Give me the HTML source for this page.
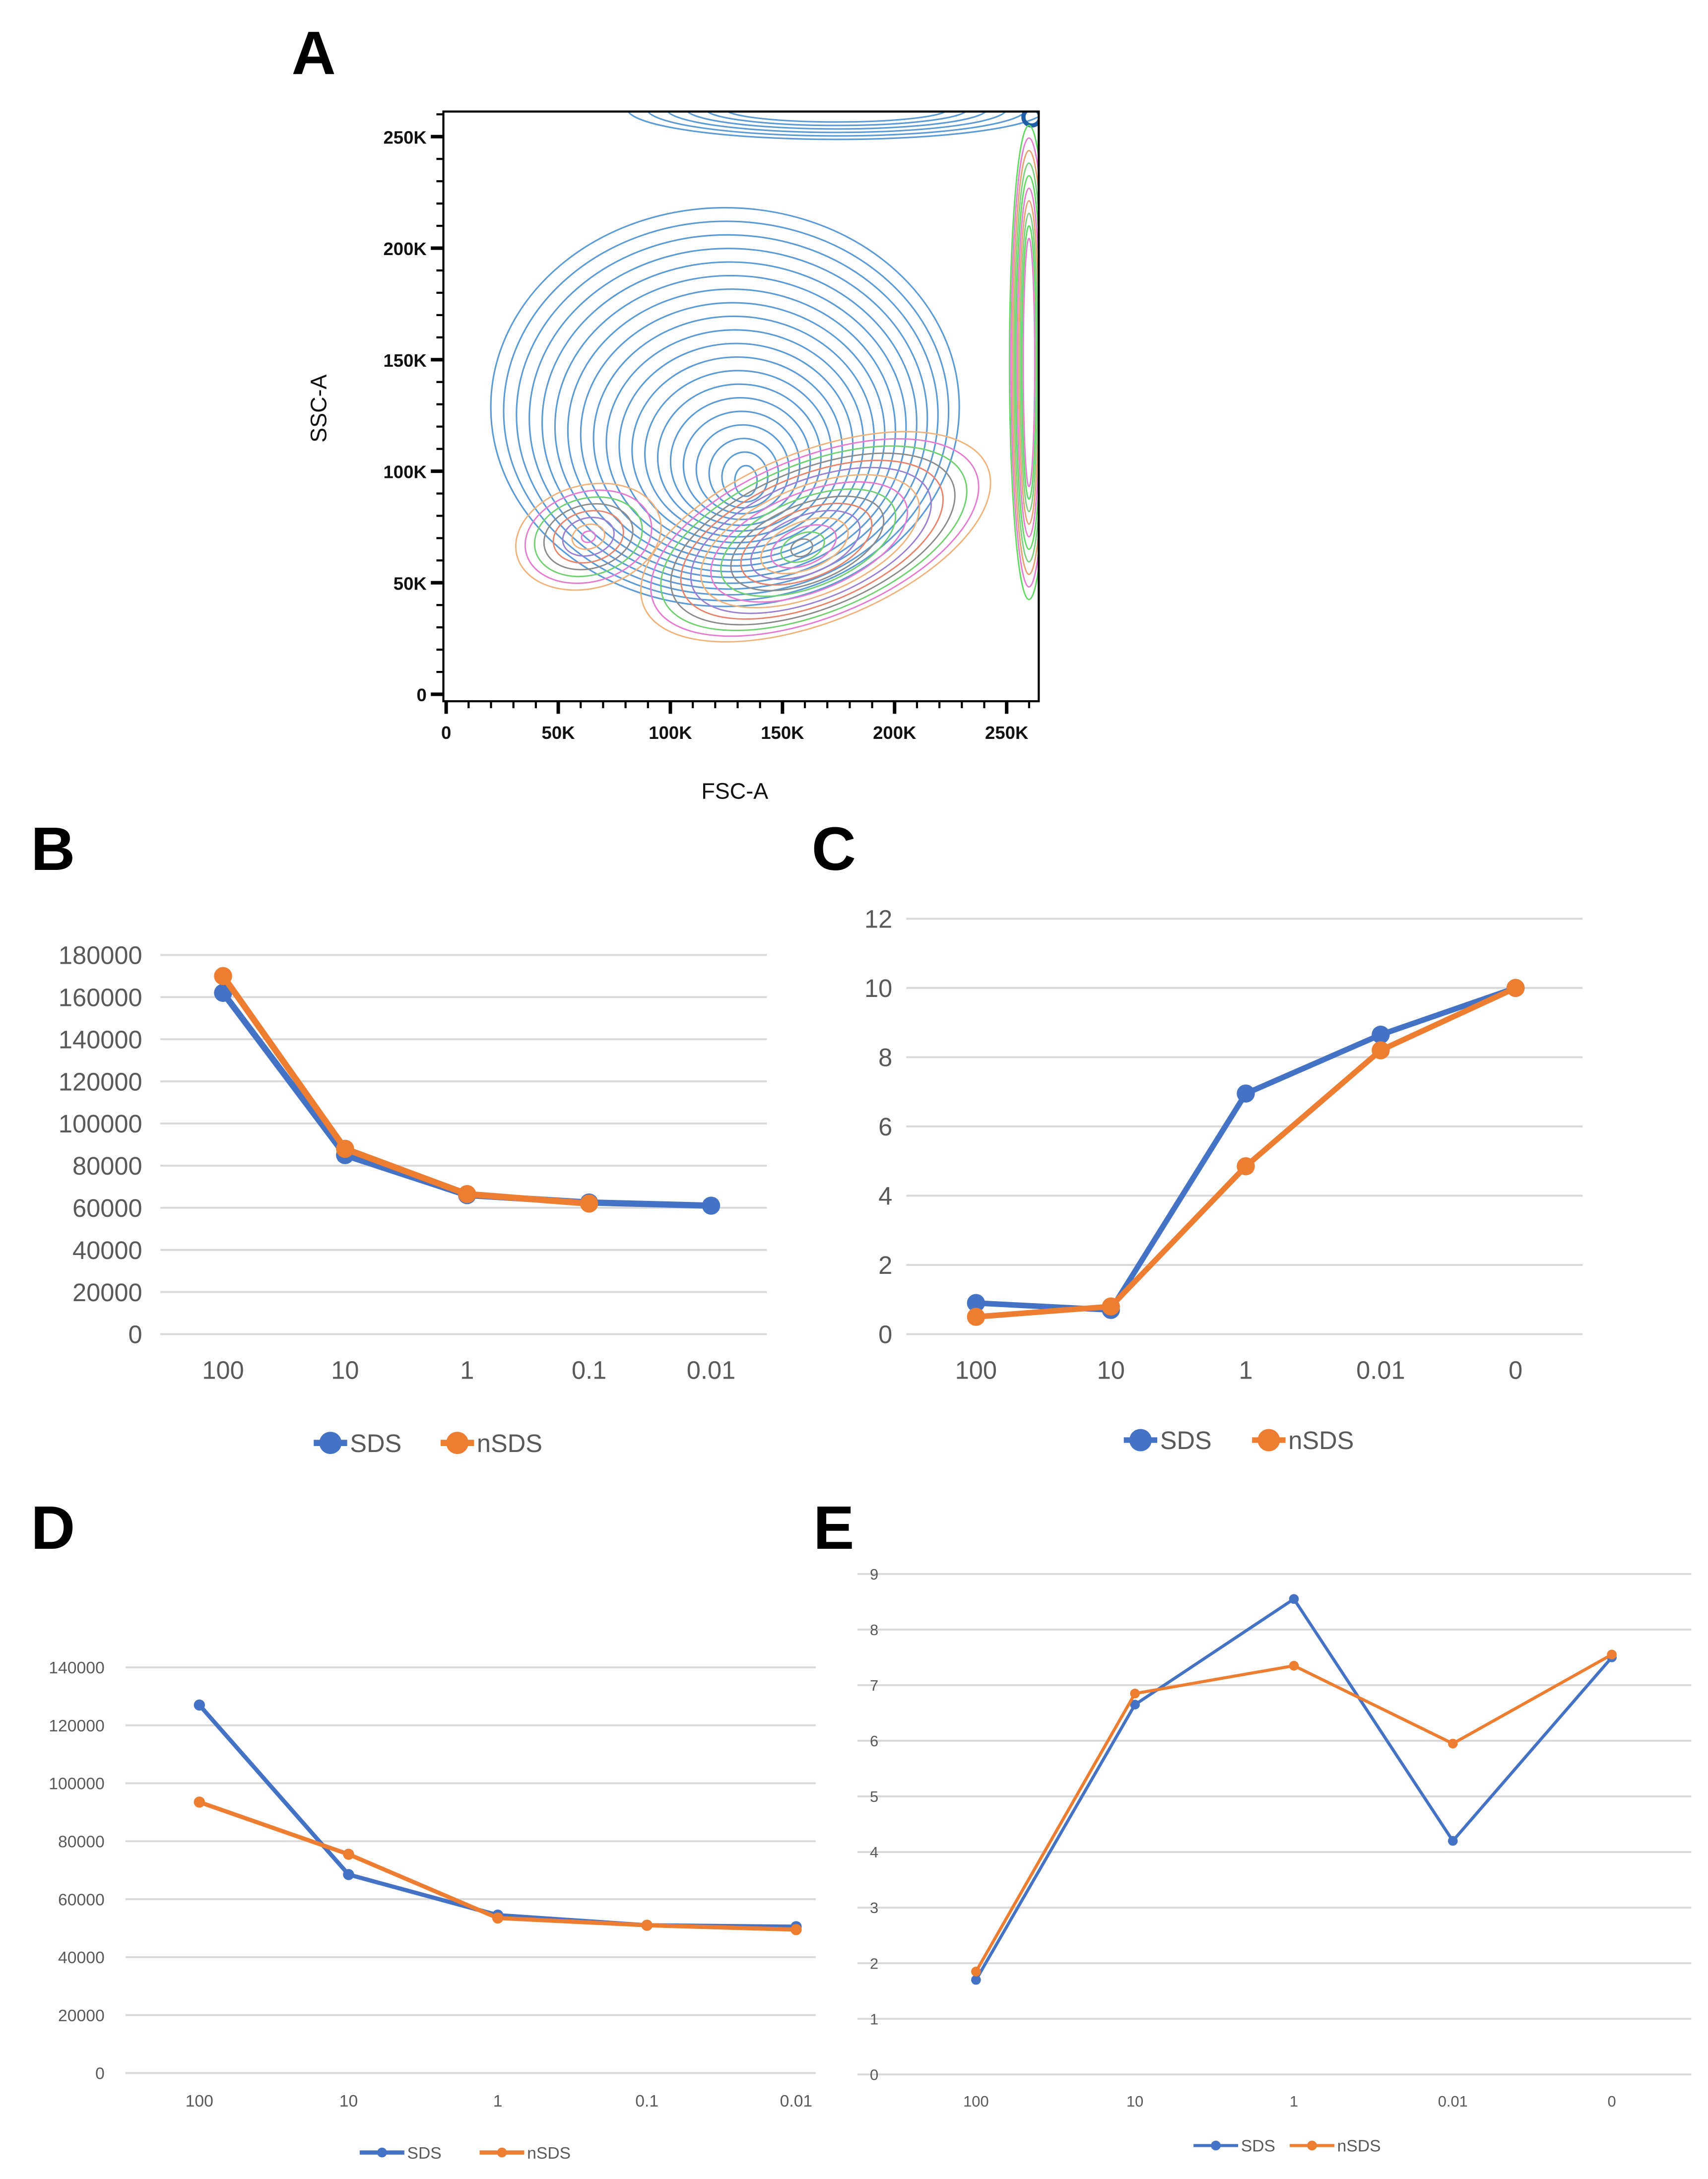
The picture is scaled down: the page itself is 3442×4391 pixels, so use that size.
<!DOCTYPE html>
<html><head><meta charset="utf-8">
<style>
html,body{margin:0;padding:0;background:#fff;}
svg{display:block;}
text{font-family:"Liberation Sans",sans-serif;}
</style></head>
<body>
<svg id="fig" width="3442" height="4391" viewBox="0 0 1225 1563" preserveAspectRatio="none" xmlns="http://www.w3.org/2000/svg">
  <text x="225" y="53" font-size="44" font-weight="bold" text-anchor="middle">A</text>
  <text x="38" y="624" font-size="44" font-weight="bold" text-anchor="middle">B</text>
  <text x="598" y="624" font-size="44" font-weight="bold" text-anchor="middle">C</text>
  <text x="38" y="1111" font-size="44" font-weight="bold" text-anchor="middle">D</text>
  <text x="598" y="1111" font-size="44" font-weight="bold" text-anchor="middle">E</text>
  <g id="panelA"></g>
  <g id="panelB"></g>
  <g id="panelC"></g>
  <g id="panelD"></g>
  <g id="panelE"></g>
</svg>
<script>
// ---- data ----
const bCategories = ["100","10","1","0.1","0.01"];
const bSDS = [162000, 85000, 66000, 62500, 61000];
const bNSDS = [170000, 88000, 66500, 62000];
const bTicks = [0,20000,40000,60000,80000,100000,120000,140000,160000,180000];

const cCategories = ["100","10","1","0.01","0"];
const cSDS = [0.9, 0.7, 6.95, 8.65, 10];
const cNSDS = [0.5, 0.8, 4.85, 8.2, 10];
const cTicks = [0,2,4,6,8,10,12];

const dCategories = ["100","10","1","0.1","0.01"];
const dSDS = [127000, 68500, 54500, 51000, 50500];
const dNSDS = [93500, 75500, 53500, 51000, 49500];
const dTicks = [0,20000,40000,60000,80000,100000,120000,140000];

const eCategories = ["100","10","1","0.01","0"];
const eSDS = [1.7, 6.65, 8.55, 4.2, 7.5];
const eNSDS = [1.85, 6.85, 7.35, 5.95, 7.55];
const eTicks = [0,1,2,3,4,5,6,7,8,9];

const NS = "http://www.w3.org/2000/svg";
function mk(parent, tag, attrs){
  const el = document.createElementNS(NS, tag);
  for (const k in attrs) el.setAttribute(k, attrs[k]);
  parent.appendChild(el);
  return el;
}
const BLUE="#4472c4", ORANGE="#ed7d31";

function lineChart(g, cfg){
  const {x0,x1,yTop,yBot,max,ticks,cats,catX,s1,s2,fs,lw,r,labX,labY,leg} = cfg;
  const ys = v => yBot - (v/max)*(yBot-yTop);
  const xs = i => catX[0] + i*(catX[1]-catX[0])/(cats.length-1);
  ticks.forEach(t=>{
    const gl = mk(g,'line',{x1:x0,x2:x1,y1:ys(t),y2:ys(t),stroke:'#d9d9d9','stroke-width':1.4});
    
    
    const tl = mk(g,'text',{x:labX,y:ys(t)+fs*0.36,'font-size':fs,fill:'#595959','text-anchor':'end'});
    tl.textContent = t;
    
    
  });
  cats.forEach((c,i)=>{
    const xl = mk(g,'text',{x:xs(i),y:labY,'font-size':fs,fill:'#595959','text-anchor':'middle'});
    xl.textContent = c;
    
    
  });
  [[s1,BLUE,'sds'],[s2,ORANGE,'nsds']].forEach(([s,col,nm])=>{
    const pts = s.map((v,i)=>xs(i)+','+ys(v)).join(' ');
    const pl = mk(g,'polyline',{points:pts,fill:'none',stroke:col,'stroke-width':lw,'stroke-linejoin':'round'});
    
    
    s.forEach((v,i)=>{
      const c = mk(g,'circle',{cx:xs(i),cy:ys(v),r:r,fill:col});
      
      
    });
  });
  [[BLUE,'SDS',leg.x1],[ORANGE,'nSDS',leg.x2]].forEach(([col,lab,lx])=>{
    const lg = mk(g,'g',{});
    
    
    mk(lg,'line',{x1:lx-leg.len/2,x2:lx+leg.len/2,y1:leg.y,y2:leg.y,stroke:col,'stroke-width':lw});
    mk(lg,'circle',{cx:lx,cy:leg.y,r:leg.r,fill:col});
    const t = mk(lg,'text',{x:lx+leg.len/2+2,y:leg.y+leg.fs*0.36,'font-size':leg.fs,fill:'#595959'});
    t.textContent = lab;
  });
}

lineChart(document.getElementById('panelB'),{x0:115,x1:550,yTop:685,yBot:957,max:180000,ticks:bTicks,cats:bCategories,catX:[160,510],s1:bSDS,s2:bNSDS,fs:18,lw:4.5,r:6.5,labX:102,labY:989,leg:{y:1035,x1:237,x2:328,len:24,r:8,fs:18}});
lineChart(document.getElementById('panelC'),{x0:650,x1:1135,yTop:659,yBot:957,max:12,ticks:cTicks,cats:cCategories,catX:[700,1087],s1:cSDS,s2:cNSDS,fs:18,lw:4,r:6.5,labX:640,labY:989,leg:{y:1033,x1:818,x2:910,len:24,r:8,fs:18}});
lineChart(document.getElementById('panelD'),{x0:90,x1:585,yTop:1196,yBot:1487,max:140000,ticks:dTicks,cats:dCategories,catX:[143,571],s1:dSDS,s2:dNSDS,fs:12,lw:3,r:4,labX:75,labY:1511,leg:{y:1544,x1:274,x2:360,len:32,r:3.5,fs:12}});
lineChart(document.getElementById('panelE'),{x0:615,x1:1213,yTop:1129,yBot:1488,max:9,ticks:eTicks,cats:eCategories,catX:[700,1156],s1:eSDS,s2:eNSDS,fs:11,lw:2.2,r:3.5,labX:630,labY:1511,leg:{y:1539,x1:872,x2:941,len:32,r:3.5,fs:12}});

// ---- Panel A: flow cytometry contour plot ----
const aYTicks = ["0","50K","100K","150K","200K","250K"];
const aXTicks = ["0","50K","100K","150K","200K","250K"];
(function(){
  const g = document.getElementById('panelA');
  const L=318,R=745,T=80,B=503;
  const y0=498, y250=98, x0=320, x250=722;
  const defs = mk(g,'defs',{});
  const cp = mk(defs,'clipPath',{id:'aclip'});
  mk(cp,'rect',{x:L,y:T,width:R-L,height:B-T});
  const cg = mk(g,'g',{'clip-path':'url(#aclip)'});
  
  
  for(let i=0;i<6;i++){
    mk(cg,'ellipse',{cx:600,cy:78,rx:150-i*14,ry:22-i*2.5,fill:'none',stroke:'#5b9bd5','stroke-width':1.1});
  }
  mk(cg,'circle',{cx:740,cy:84,r:6,fill:'none',stroke:'#1f5fa8','stroke-width':3});
  const rc=['#5fdc5f','#e67ad0','#e8a070','#7ccf7c'];
  for(let i=0;i<10;i++){
    mk(cg,'ellipse',{cx:738,cy:260,rx:14-i*1.1,ry:170-i*9,fill:'none',stroke:rc[i%4],'stroke-width':1});
  }
  const n=20;
  for(let i=0;i<n;i++){
    const t=i/(n-1);
    const cx=520+15*t, cy=292+53*t, rx=160*(1-t)+8, ry=132*(1-t)+11;
    mk(cg,'ellipse',{cx:cx,cy:cy,rx:rx,ry:ry,fill:'none',stroke:'#5b9bd5','stroke-width':1.1});
  }
  const mc=['#f0b27a','#e67ad0','#6fd06f','#8a8a8a','#e8836a','#9a7fd0'];
  for(let i=0;i<16;i++){
    const t=i/15;
    const cx=585-10*t, cy=385+8*t, rx=125*(1-t)+8, ry=55*(1-t)+6;
    mk(cg,'ellipse',{cx:cx,cy:cy,rx:rx,ry:ry,transform:'rotate(-22 '+cx+' '+cy+')',fill:'none',stroke:mc[i%6],'stroke-width':1});
  }
  for(let i=0;i<8;i++){
    const t=i/7;
    mk(cg,'ellipse',{cx:422,cy:385,rx:48*(1-t)+5,ry:33*(1-t)+4,transform:'rotate(-15 422 385)',fill:'none',stroke:mc[i%6],'stroke-width':1});
  }
  const fr = mk(g,'rect',{x:L,y:T,width:R-L,height:B-T,fill:'none',stroke:'#000','stroke-width':1.5});
  
  
  const yv = k => y0 - k*(y0-y250)/250;
  for(let k=0;k<=260;k+=10){
    const major = k%50===0;
    mk(g,'line',{x1:L-(major?9:5),x2:L,y1:yv(k),y2:yv(k),stroke:'#000','stroke-width':major?2.5:1.5});
  }
  aYTicks.forEach((lab,i)=>{
    const t = mk(g,'text',{x:L-12,y:yv(i*50)+5,'font-size':13,'font-weight':'bold','text-anchor':'end',fill:'#111'});
    t.textContent = lab;
    
    
  });
  const xv = k => x0 + k*(x250-x0)/250;
  for(let k=0;k<=260;k+=10){
    const major = k%50===0;
    mk(g,'line',{x1:xv(k),x2:xv(k),y1:B,y2:B+(major?9:5),stroke:'#000','stroke-width':major?2.5:1.5});
  }
  aXTicks.forEach((lab,i)=>{
    const t = mk(g,'text',{x:xv(i*50),y:B+27,'font-size':13,'font-weight':'bold','text-anchor':'middle',fill:'#111'});
    t.textContent = lab;
    
    
  });
  const xt = mk(g,'text',{x:527,y:573,'font-size':16,'text-anchor':'middle',fill:'#111'});
  xt.textContent='FSC-A';
  
  
  const yt = mk(g,'text',{x:0,y:0,'font-size':16,'text-anchor':'middle',fill:'#111',transform:'translate(234 293) rotate(-90)'});
  yt.textContent='SSC-A';
  
  
})();
</script>
</body></html>
